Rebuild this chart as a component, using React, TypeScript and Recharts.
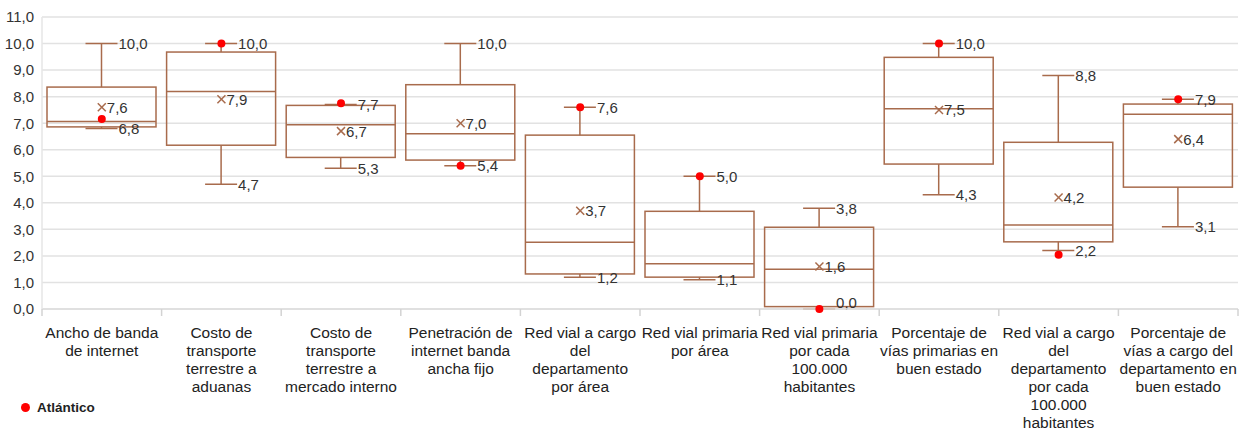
import { Bar, ComposedChart, CartesianGrid, Scatter, XAxis, YAxis } from "recharts";

const categories = [
  "Ancho de banda\nde internet",
  "Costo de\ntransporte\nterrestre a\naduanas",
  "Costo de\ntransporte\nterrestre a\nmercado interno",
  "Penetración de\ninternet banda\nancha fijo",
  "Red vial a cargo\ndel\ndepartamento\npor área",
  "Red vial primaria\npor área",
  "Red vial primaria\npor cada\n100.000\nhabitantes",
  "Porcentaje de\nvías primarias en\nbuen estado",
  "Red vial a cargo\ndel\ndepartamento\npor cada\n100.000\nhabitantes",
  "Porcentaje de\nvías a cargo del\ndepartamento en\nbuen estado",
];
const minValues = [6.8, 4.7, 5.3, 5.4, 1.2, 1.1, 0.0, 4.3, 2.2, 3.1];
const q1Values = [6.86, 6.17, 5.71, 5.61, 1.32, 1.2, 0.09, 5.46, 2.53, 4.59];
const medianValues = [7.06, 8.19, 6.94, 6.6, 2.51, 1.7, 1.5, 7.54, 3.16, 7.34];
const q3Values = [8.36, 9.68, 7.67, 8.45, 6.55, 3.68, 3.08, 9.48, 6.28, 7.72];
const maxValues = [10.0, 10.0, 7.7, 10.0, 7.6, 5.0, 3.8, 10.0, 8.8, 7.9];
const meanValues: (number | null)[] = [7.6, 7.9, 6.7, 7.0, 3.7, null, 1.6, 7.5, 4.2, 6.4];
const atlanticoValues = [7.16, 10.0, 7.75, 5.4, 7.6, 5.0, 0.0, 10.0, 2.04, 7.9];
const yTicks = [0, 1, 2, 3, 4, 5, 6, 7, 8, 9, 10, 11];

const BROWN = "#a86b4c";
const FONT = "'Liberation Sans', Arial, sans-serif";

const fmt = (v: number) => v.toFixed(1).replace(".", ",");

const data = categories.map((name, i) => ({
  name,
  range: [minValues[i], maxValues[i]],
  min: minValues[i],
  q1: q1Values[i],
  median: medianValues[i],
  q3: q3Values[i],
  max: maxValues[i],
  mean: meanValues[i],
  atlantico: atlanticoValues[i],
}));

function BoxShape(props: any) {
  const { x, y, width, height, payload } = props;
  const { min, max, q1, median, q3 } = payload;
  const toY = (v: number) => y + ((max - v) / (max - min)) * height;
  const cx = x + width / 2;
  const cap = 16;
  const yMax = toY(max);
  const yMin = toY(min);
  const bottom = toY(0);
  const minLabelY = Math.min(yMin, bottom - 7);
  const textStyle = { fontFamily: FONT, fontSize: 15, fill: "#333" };
  return (
    <g>
      <line x1={cx} x2={cx} y1={yMax} y2={toY(q3)} stroke={BROWN} strokeWidth={1.5} />
      <line x1={cx} x2={cx} y1={toY(q1)} y2={yMin} stroke={BROWN} strokeWidth={1.5} />
      <line x1={cx - cap} x2={cx + cap} y1={yMax} y2={yMax} stroke={BROWN} strokeWidth={1.5} />
      <line x1={cx - cap} x2={cx + cap} y1={yMin} y2={yMin} stroke={BROWN} strokeWidth={1.5} />
      <rect
        x={x}
        y={toY(q3)}
        width={width}
        height={toY(q1) - toY(q3)}
        fill="none"
        stroke={BROWN}
        strokeWidth={1.5}
      />
      <line x1={x} x2={x + width} y1={toY(median)} y2={toY(median)} stroke={BROWN} strokeWidth={1.5} />
      <text x={cx + cap + 1} y={yMax} dominantBaseline="central" {...textStyle}>
        {fmt(max)}
      </text>
      <text x={cx + cap + 1} y={minLabelY} dominantBaseline="central" {...textStyle}>
        {fmt(min)}
      </text>
    </g>
  );
}

function MeanShape(props: any) {
  const { cx, cy, payload } = props;
  if (payload.mean == null || !isFinite(cy)) return <g />;
  const s = 4;
  return (
    <g>
      <line x1={cx - s} x2={cx + s} y1={cy - s} y2={cy + s} stroke={BROWN} strokeWidth={1.5} />
      <line x1={cx - s} x2={cx + s} y1={cy + s} y2={cy - s} stroke={BROWN} strokeWidth={1.5} />
      <text
        x={cx + 5}
        y={cy}
        dominantBaseline="central"
        fontFamily={FONT}
        fontSize={15}
        fill="#333"
      >
        {fmt(payload.mean)}
      </text>
    </g>
  );
}

function DotShape(props: any) {
  const { cx, cy } = props;
  return <circle cx={cx} cy={cy} r={4} fill="#ff0000" />;
}

function CategoryTick(props: any) {
  const { x, y, payload, index, visibleTicksCount } = props;
  const lines = String(payload.value).split("\n");
  const half = Number(payload.offset) || 0;
  const tickTop = y - 8;
  return (
    <g>
      {half > 0 && (
        <line x1={x - half} x2={x - half} y1={tickTop} y2={tickTop + 7} stroke="#d3d3d3" strokeWidth={1.5} />
      )}
      {half > 0 && index === visibleTicksCount - 1 && (
        <line x1={x + half} x2={x + half} y1={tickTop} y2={tickTop + 7} stroke="#d3d3d3" strokeWidth={1.5} />
      )}
      <text x={x} y={y} textAnchor="middle" fontFamily={FONT} fontSize={15.5} fill="#222">
        {lines.map((line, i) => (
          <tspan key={i} x={x} dy={i === 0 ? 21 : 18}>
            {line}
          </tspan>
        ))}
      </text>
    </g>
  );
}

export default function App() {
  return (
    <div style={{ position: "absolute", left: 0, top: 0, width: 1245, height: 430, background: "#fff" }}>
      <ComposedChart
        width={1245}
        height={430}
        data={data}
        margin={{ top: 17, right: 7, left: 0, bottom: 0 }}
      >
        <CartesianGrid vertical={false} stroke="#e2e2e2" strokeWidth={1.5} />
        <XAxis
          dataKey="name"
          height={121}
          interval={0}
          tickLine={false}
          axisLine={{ stroke: "#dcdcdc", strokeWidth: 1.5 }}
          tick={<CategoryTick />}
        />
        <YAxis
          width={42}
          domain={[0, 11]}
          ticks={yTicks}
          interval={0}
          tickLine={false}
          axisLine={{ stroke: "#e6e6e6", strokeWidth: 1.5 }}
          tickFormatter={(v: number) => fmt(v)}
          tick={{ fontFamily: FONT, fontSize: 15, fill: "#333" }}
          tickMargin={2}
        />
        <Bar dataKey="range" barSize={109} shape={<BoxShape />} isAnimationActive={false} />
        <Scatter dataKey="mean" shape={<MeanShape />} isAnimationActive={false} />
        <Scatter dataKey="atlantico" shape={<DotShape />} isAnimationActive={false} />
      </ComposedChart>
      <div
        style={{
          position: "absolute",
          left: 21,
          top: 400,
          display: "flex",
          alignItems: "center",
          fontFamily: FONT,
          fontSize: 13.5,
          fontWeight: "bold",
          color: "#222",
        }}
      >
        <span
          style={{
            display: "inline-block",
            width: 9,
            height: 9,
            borderRadius: "50%",
            background: "#ff0000",
            marginRight: 7,
          }}
        />
        Atlántico
      </div>
    </div>
  );
}
